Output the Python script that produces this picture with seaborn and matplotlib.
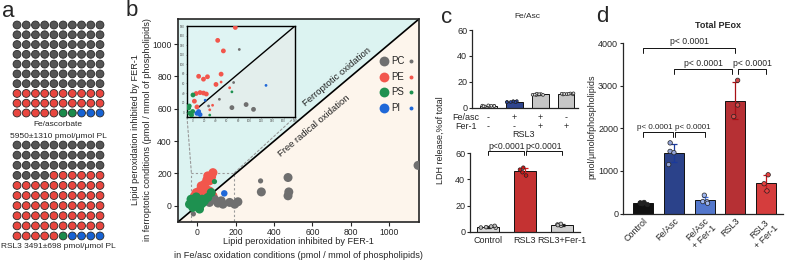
import numpy as np
import pandas as pd
import matplotlib.pyplot as plt
import seaborn as sns
from matplotlib.patches import ConnectionPatch

sns.set_style("ticks")
plt.rcParams['font.family'] = ['Liberation Sans', 'DejaVu Sans']
plt.rcParams['axes.linewidth'] = 0.9

W, H = 789, 261

# ---- a: composition of oxidized PLs (100 dots)
classes = ['PC', 'PE', 'PS', 'PI']
waffle_feasc = [70, 25, 2, 3]
waffle_rsl3 = [34, 61, 1, 4]

# ---- b: main scatter (pmol / mmol PL)
pe_x = [82, 55, 64, 38, 21, 47, 12, -5, 29, -14, 3, 64, 82, 40, 20, 75, 50]
pe_y = [205, 185, 154, 134, 123, 103, 92, 82, 72, 62, 41, 92, 62, 110, 100, 180, 160]
pe_big = ['L'] * 17
pc_x = [334, 330, 473, 477, 473, 1150, 47, 64, 90, 108, 125, 134, 169, 195, 212, 82, 12, -20]
pc_y = [86, 154, 175, 86, 62, 250, 35, 21, 41, 17, 31, 10, 21, 10, 25, 41, 0, -50]
pc_big = ['L', 'S', 'L', 'L', 'L', 'L', 'L', 'L', 'L', 'L', 'L', 'L', 'L', 'L', 'L', 'L', 'L', 'S']
ps_x = [-32, -14, 3, 21, -23, 38, 55, -5, 12, -40, 73, 26, 0, 30, -20, 90]
ps_y = [41, 21, 0, 10, -10, 31, 52, 55, -20, 10, 82, 41, 25, 20, 30, 150]
ps_big = ['L'] * 15 + ['S']
pi_x = [141]
pi_y = [77]
pi_big = ['M']

# ---- b: inset (zoom of the low range)
in_pe_x = [75, 44, 54, 10.5, 19, 26, 50, 41, 6, 13, 19, 24, 3, 7.5, 50, 65, 35, 30]
in_pe_y = [177, 150, 128, 75, 69, 74, 79.5, 58, 39, 41, 40, 38, 23, 11, 63, 51, 14.5, 5]
in_pe_big = ['L'] * 14 + ['S'] * 4
in_pc_x = [82, 72, 47, 28, 12, 69, 94, 107]
in_pc_y = [131, 62, 27, 13, 1, 9.6, 16, 6]
in_pc_big = ['S'] * 5 + ['L'] * 3
in_ps_x = [69, 30, 0.5, -7, -5, -2, -6, 0]
in_ps_y = [42.5, -6, 36, 9, -2, -6, 13, 1.5]
in_ps_big = ['S', 'S'] + ['L'] * 6
in_pi_x = [129, 22, 7.5, 13, 10.5]
in_pi_y = [56, 25, -2.4, -5, 1.4]
in_pi_big = ['S', 'S', 'L', 'L', 'L']

# ---- c: LDH release
c_top_groups = ['g1', 'g2', 'g3', 'g4']
feasc_signs = ['-', '+', '+', '-']
fer1_signs = ['-', '-', '+', '+']
c_top_vals = [[1.2, 1.5, 1.0, 1.8, 1.4, 1.3, 1.6, 1.1],
              [4.5, 5.0, 4.2, 4.8, 4.6, 4.4, 5.1, 4.3],
              [10.0, 10.5, 9.8, 10.2, 10.8, 9.9, 10.4, 10.1],
              [10.5, 11.0, 10.2, 10.8, 10.6, 10.3, 11.1, 10.7]]
c_bot_groups = ['Control', 'RSL3', 'RSL3+Fer-1']
c_bot_vals = [[3.0, 4.5, 3.5, 3.2, 4.0],
              [43.0, 45.5, 47.5, 49.0],
              [4.5, 5.5, 5.0, 6.0]]

# ---- d: total PEox
d_groups = ['Control', 'Fe/Asc', 'Fe/Asc\n+ Fer-1', 'RSL3', 'RSL3\n+ Fer-1']
d_vals = [[210, 260, 240, 250, 230],
          [1660, 1460, 1430, 1150],
          [430, 280, 275, 240],
          [3130, 2550, 2280],
          [910, 700, 530]]

pt_colors = {'PC': '#6f6f6f', 'PE': '#f2564c', 'PS': '#1e9150', 'PI': '#1f68d8'}
waffle_colors = {'PC': '#555555', 'PE': '#e8463f', 'PS': '#1b8a4b', 'PI': '#1763d3'}

fig = plt.figure(figsize=(W / 100, H / 100), dpi=100)


def fbox(x0, y0, x1, y1):
    return [x0 / W, 1 - y1 / H, (x1 - x0) / W, (y1 - y0) / H]


def ftext(x, y, s, **kw):
    fig.text(x / W, 1 - y / H, s, **kw)


# ================= a =================
def waffle(rect, counts):
    ax = fig.add_axes(rect)
    idx = np.arange(sum(counts))
    df = pd.DataFrame({'col': idx % 10, 'row': idx // 10,
                       'cls': np.repeat(classes, counts)})
    sns.scatterplot(data=df, x='col', y='row', hue='cls', palette=waffle_colors,
                    s=32, edgecolor='#2a2a2a', linewidth=0.6, legend=False, ax=ax)
    ax.set_xlim(-0.5, 9.5)
    ax.set_ylim(9.5, -0.5)
    ax.axis('off')


waffle(fbox(12.4, 20.1, 104.6, 117.9), waffle_feasc)
waffle(fbox(12.4, 140, 104.6, 241), waffle_rsl3)
ftext(58, 125, 'Fe/ascorbate', ha='center', va='center', fontsize=6)
ftext(58, 137, '5950±1310 pmol/μmol PL', ha='center', va='center', fontsize=6)
ftext(58, 247, 'RSL3 3491±698 pmol/μmol PL', ha='center', va='center', fontsize=6)


# ================= b =================
def class_frame(pts):
    rows = []
    for cls, (xs, ys, bs) in pts.items():
        for x, y, b in zip(xs, ys, bs):
            rows.append((cls, x, y, b))
    return pd.DataFrame(rows, columns=['cls', 'x', 'y', 'sz'])


ax = fig.add_axes(fbox(178, 19, 419, 222))
lo, hi = -100, 1155
ax.fill([lo, lo, hi], [lo, hi, hi], color='#dcf3f1', zorder=0, lw=0)
ax.fill([lo, hi, hi], [lo, lo, hi], color='#fdf5ec', zorder=0, lw=0)
ax.plot([lo, hi], [lo, hi], color='k', lw=1.2, zorder=2)

main_df = class_frame({'PE': (pe_x, pe_y, pe_big), 'PC': (pc_x, pc_y, pc_big),
                       'PS': (ps_x, ps_y, ps_big), 'PI': (pi_x, pi_y, pi_big)})
sns.scatterplot(data=main_df, x='x', y='y', hue='cls', palette=pt_colors,
                size='sz', sizes={'L': 42, 'M': 22, 'S': 14}, linewidth=0,
                legend=False, ax=ax, zorder=3)
ax.set_xlim(lo, hi)
ax.set_ylim(lo, hi)
ax.set_xticks(range(0, 1001, 200))
ax.set_yticks(range(0, 1001, 200))
ax.tick_params(labelsize=6.2, length=3, width=0.8, pad=1.5)
ax.set_xlabel('')
ax.set_ylabel('')
for sp in ax.spines.values():
    sp.set_linewidth(1.2)

# zoom rectangle
zx0, zx1, zy1 = -30, 190, 200
ax.plot([zx0, zx0, zx1, zx1], [lo, zy1, zy1, lo], ls=(0, (2, 2)),
        color='#9a9a9a', lw=0.8, zorder=1)

ax.text(730, 800, 'Ferroptotic oxidation', rotation=45, transform_rotates_text=True,
        rotation_mode='anchor', ha='center', va='center', fontsize=6.8, color='#222222')
ax.text(610, 495, 'Free radical oxidation', rotation=45, transform_rotates_text=True,
        rotation_mode='anchor', ha='center', va='center', fontsize=6.8, color='#222222')

for k, cls in enumerate(classes):
    fy = 0.793 - k * 0.077
    ax.scatter(0.855, fy, s=50, color=pt_colors[cls], transform=ax.transAxes,
               clip_on=False, zorder=5, lw=0)
    ax.text(0.885, fy, cls, transform=ax.transAxes, va='center', ha='left', fontsize=7)
    ax.scatter(0.967, fy, s=8, color=pt_colors[cls], transform=ax.transAxes,
               clip_on=False, zorder=5, lw=0)

ftext(298, 242, 'Lipid peroxidation inhibited by FER-1', ha='center', va='center', fontsize=6.6)
ftext(298, 256, 'in Fe/asc oxidation conditions (pmol / mmol of phospholipids)',
      ha='center', va='center', fontsize=6.6)
ftext(135, 130, 'Lipid peroxidation inhibited by FER-1', ha='center', va='center',
      rotation=90, fontsize=6.6)
ftext(148, 130, 'in ferroptotic conditions (pmol / mmol of phospholipids)', ha='center',
      va='center', rotation=90, fontsize=6.6)

# inset
axi = fig.add_axes(fbox(187, 26, 295, 117))
ilo, ihi = -10, 180
axi.fill([ilo, ilo, ihi], [ilo, ihi, ihi], color='#dff4f3', zorder=0, lw=0)
axi.fill([ilo, ihi, ihi], [ilo, ilo, ihi], color='#e3eeec', zorder=0, lw=0)
axi.plot([10, ihi], [10, ihi], color='k', lw=1.0, zorder=2)
in_df = class_frame({'PE': (in_pe_x, in_pe_y, in_pe_big), 'PC': (in_pc_x, in_pc_y, in_pc_big),
                     'PS': (in_ps_x, in_ps_y, in_ps_big), 'PI': (in_pi_x, in_pi_y, in_pi_big)})
sns.scatterplot(data=in_df, x='x', y='y', hue='cls', palette=pt_colors,
                size='sz', sizes={'L': 12, 'M': 6, 'S': 4}, linewidth=0,
                legend=False, ax=axi, zorder=3)
axi.set_xlim(ilo, ihi)
axi.set_ylim(ilo, ihi)
axi.set_xticks(range(0, 181, 20))
axi.set_yticks(range(0, 181, 20))
axi.tick_params(labelsize=2.2, length=1, width=0.4, pad=0.5, colors='#555555')
axi.set_xlabel('')
axi.set_ylabel('')
for sp in axi.spines.values():
    sp.set_linewidth(1.0)
    sp.set_color('k')

for (xa, ya), xb in [((0, 0), zx0), ((1, 0), zx1)]:
    con = ConnectionPatch(xyA=(xa, ya), coordsA=axi.transAxes, xyB=(xb, zy1),
                          coordsB=ax.transData, ls=(0, (2, 2)), color='#9a9a9a', lw=0.8)
    con.set_zorder(1)
    ax.add_artist(con)


# ================= c / d bars =================
def bars(ax, groups, values, colors, pcolors, ecolors, width, psize, jitter):
    df = pd.DataFrame([(g, v) for g, vs in zip(groups, values) for v in vs],
                      columns=['g', 'v'])
    sns.barplot(data=df, x='g', y='v', hue='g', order=groups, hue_order=groups,
                palette=dict(zip(groups, colors)), errorbar=None, width=width,
                edgecolor='#111111', linewidth=0.7, legend=False, ax=ax)
    for i, vs in enumerate(values):
        m, sd = np.mean(vs), np.std(vs, ddof=1)
        ax.errorbar(i, m, yerr=sd, color=ecolors[i], capsize=2.2, lw=0.9,
                    capthick=0.9, zorder=4)
    sns.stripplot(data=df, x='g', y='v', hue='g', order=groups, hue_order=groups,
                  palette=dict(zip(groups, pcolors)), jitter=jitter, size=psize,
                  edgecolor='#222222', linewidth=0.5, legend=False, ax=ax, zorder=5)
    ax.set_xlabel('')
    ax.set_ylabel('')
    sns.despine(ax=ax)


np.random.seed(3)
ct = fig.add_axes(fbox(472, 30, 578, 107.7))
bars(ct, c_top_groups, c_top_vals, ['#d6d6d6', '#1f3c9e', '#c6c6c6', '#c6c6c6'],
     ['#eeeeee', '#2c4aa8', '#dddddd', '#dddddd'],
     ['#222222', '#1f3c9e', '#222222', '#222222'], 0.65, 2.0, 0.3)
ct.set_xlim(-0.62, 3.46)
ct.set_ylim(0, 60)
ct.set_yticks([0, 20, 40, 60])
ct.tick_params(axis='y', labelsize=6.5, length=2.5, width=0.8, pad=1)
ct.tick_params(axis='x', length=0, labelbottom=False)
tr = ct.get_xaxis_transform()
for i, (s1, s2) in enumerate(zip(feasc_signs, fer1_signs)):
    ct.text(i, -0.13, s1, transform=tr, ha='center', va='center', fontsize=6.5)
    ct.text(i, -0.245, s2, transform=tr, ha='center', va='center', fontsize=6.5)
ct.text(-0.85, -0.13, 'Fe/asc', transform=tr, ha='center', va='center', fontsize=6.5)
ct.text(-0.85, -0.245, 'Fer-1', transform=tr, ha='center', va='center', fontsize=6.5)
ct.text(1.38, -0.345, 'RSL3', transform=tr, ha='center', va='center', fontsize=6.5)
ftext(527, 17, 'Fe/Asc', ha='center', va='center', fontsize=6)

cb = fig.add_axes(fbox(470, 153.3, 580, 231.7))
bars(cb, c_bot_groups, c_bot_vals, ['#d9d9d9', '#dc1a1a', '#d0d0d0'],
     ['#bdbdbd', '#c81818', '#bdbdbd'], ['#222222', '#dc1a1a', '#222222'], 0.6, 2.6, 0.25)
cb.set_xlim(-0.5, 2.5)
cb.set_ylim(0, 60)
cb.set_yticks([0, 20, 40, 60])
cb.tick_params(axis='y', labelsize=6.5, length=2.5, width=0.8, pad=1)
cb.tick_params(axis='x', labelsize=6.5, length=0, pad=3)


def bracket(ax, x1, x2, y, h, text, fs=6.5, pad=0, dx=0):
    ax.plot([x1, x1, x2, x2], [y - h, y, y, y - h], color='#111111', lw=0.7, clip_on=False)
    ax.text((x1 + x2) / 2 + dx, y + pad, text, ha='center', va='bottom', fontsize=fs,
            clip_on=False)


bracket(cb, 0, 0.98, 62, 3, 'p<0.0001', fs=6.2)
bracket(cb, 1.02, 2, 62, 3, 'p<0.0001', fs=6.2)
ftext(440, 140, 'LDH release,%of total', ha='center', va='center', rotation=90, fontsize=6.5)

dd = fig.add_axes(fbox(623, 43.3, 783, 213.5))
bars(dd, d_groups, d_vals, ['#111111', '#1b3a9a', '#3f6fe0', '#cc1a1f', '#ee2424'],
     ['#222222', '#93a3d6', '#9fb7f0', '#d44848', '#e84040'],
     ['#111111', '#1b3a9a', '#3f6fe0', '#a81016', '#c8141c'], 0.65, 3.2, 0.2)
dd.set_xlim(-0.65, 4.55)
dd.set_ylim(0, 4000)
dd.set_yticks([0, 1000, 2000, 3000, 4000])
dd.tick_params(axis='y', labelsize=6.5, length=2.5, width=0.8, pad=1)
dd.tick_params(axis='x', labelsize=6.5, length=0, pad=2)
for lab in dd.get_xticklabels():
    lab.set_rotation(45)
    lab.set_ha('right')
    lab.set_rotation_mode('anchor')
    lab.set_multialignment('center')
bracket(dd, 0, 3, 3890, 120, 'p< 0.0001', fs=6.2, pad=40)
bracket(dd, 1, 2.9, 3390, 120, 'p< 0.0001', fs=6.2, pad=40)
bracket(dd, 3.1, 4, 3390, 120, 'p< 0.0001', fs=6.2, pad=40)
bracket(dd, 0, 0.96, 1910, 120, 'p< 0.0001', fs=5.8, pad=40, dx=-0.1)
bracket(dd, 1.04, 2, 1910, 120, 'p< 0.0001', fs=5.8, pad=40, dx=0.1)
ftext(592, 127, 'pmol/μmolofphospholipids', ha='center', va='center', rotation=90, fontsize=6.5)
ftext(718, 25, 'Total PEox', ha='center', va='center', fontsize=6.5, fontweight='bold')

# panel letters
ftext(2, 17, 'a', fontsize=16, va='baseline')
ftext(126, 16, 'b', fontsize=16, va='baseline')
ftext(441, 23, 'c', fontsize=16, va='baseline')
ftext(596, 22, 'd', fontsize=16, va='baseline')

fig.savefig('out.png', dpi=100)
